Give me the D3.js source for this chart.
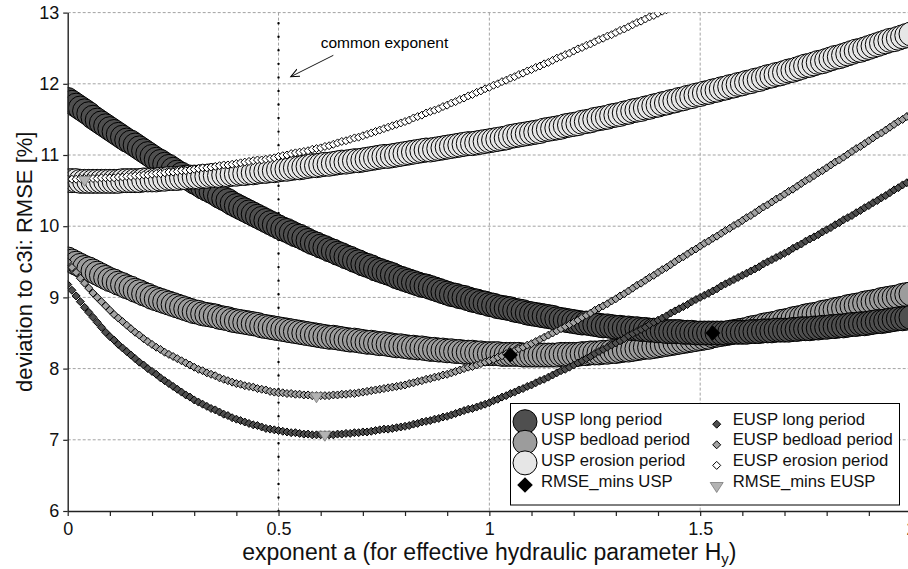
<!DOCTYPE html>
<html>
<head>
<meta charset="utf-8">
<script src="https://cdn.jsdelivr.net/npm/d3@7"></script>
<style>
  body { margin: 0; background: #fff; }
  svg { display: block; font-family: "Liberation Sans", Arial, sans-serif; }
</style>
</head>
<body>
<script>
// exponent a, sampled every 0.01 from 0 to 2
const exponents = d3.range(0, 201).map(i => i / 100);

const uspLong = [
  11.78, 11.74, 11.70, 11.66, 11.62, 11.58, 11.53, 11.49, 11.45, 11.41,
  11.37, 11.33, 11.29, 11.25, 11.21, 11.18, 11.14, 11.10, 11.06, 11.02,
  10.98, 10.94, 10.91, 10.87, 10.84, 10.80, 10.76, 10.73, 10.69, 10.66,
  10.62, 10.59, 10.55, 10.52, 10.49, 10.46, 10.42, 10.39, 10.36, 10.32,
  10.29, 10.26, 10.23, 10.20, 10.17, 10.14, 10.11, 10.08, 10.05, 10.02,
  9.99, 9.96, 9.94, 9.91, 9.88, 9.86, 9.83, 9.80, 9.77, 9.75,
  9.72, 9.70, 9.67, 9.65, 9.62, 9.60, 9.57, 9.55, 9.52, 9.50,
  9.47, 9.45, 9.43, 9.40, 9.38, 9.36, 9.34, 9.32, 9.29, 9.27,
  9.25, 9.23, 9.21, 9.19, 9.17, 9.16, 9.14, 9.12, 9.10, 9.08,
  9.06, 9.04, 9.03, 9.01, 9.00, 8.98, 8.96, 8.95, 8.93, 8.92,
  8.90, 8.89, 8.87, 8.86, 8.85, 8.84, 8.82, 8.81, 8.80, 8.78,
  8.77, 8.76, 8.75, 8.74, 8.73, 8.72, 8.70, 8.69, 8.68, 8.67,
  8.66, 8.65, 8.64, 8.64, 8.63, 8.62, 8.61, 8.60, 8.60, 8.59,
  8.58, 8.58, 8.57, 8.57, 8.56, 8.56, 8.55, 8.55, 8.54, 8.54,
  8.53, 8.53, 8.52, 8.52, 8.52, 8.52, 8.51, 8.51, 8.51, 8.50,
  8.50, 8.50, 8.50, 8.50, 8.50, 8.50, 8.50, 8.51, 8.51, 8.51,
  8.51, 8.51, 8.52, 8.52, 8.52, 8.53, 8.53, 8.53, 8.54, 8.54,
  8.54, 8.54, 8.55, 8.55, 8.56, 8.56, 8.56, 8.57, 8.57, 8.58,
  8.58, 8.59, 8.59, 8.60, 8.60, 8.61, 8.62, 8.62, 8.63, 8.63,
  8.64, 8.65, 8.66, 8.66, 8.67, 8.68, 8.69, 8.70, 8.70, 8.71,
  8.72
];

const uspBedload = [
  9.54, 9.51, 9.48, 9.45, 9.42, 9.40, 9.37, 9.34, 9.31, 9.28,
  9.25, 9.23, 9.20, 9.18, 9.15, 9.13, 9.10, 9.08, 9.05, 9.03,
  9.00, 8.98, 8.96, 8.94, 8.92, 8.90, 8.88, 8.86, 8.84, 8.82,
  8.80, 8.79, 8.77, 8.76, 8.75, 8.74, 8.72, 8.71, 8.70, 8.68,
  8.67, 8.66, 8.65, 8.64, 8.63, 8.62, 8.60, 8.59, 8.58, 8.57,
  8.56, 8.55, 8.54, 8.53, 8.52, 8.51, 8.50, 8.49, 8.48, 8.47,
  8.46, 8.45, 8.44, 8.44, 8.43, 8.42, 8.41, 8.40, 8.40, 8.39,
  8.38, 8.37, 8.37, 8.36, 8.35, 8.35, 8.34, 8.33, 8.32, 8.32,
  8.31, 8.30, 8.30, 8.29, 8.29, 8.28, 8.27, 8.27, 8.26, 8.26,
  8.25, 8.25, 8.24, 8.24, 8.23, 8.23, 8.23, 8.22, 8.22, 8.21,
  8.21, 8.21, 8.21, 8.20, 8.20, 8.20, 8.20, 8.20, 8.19, 8.19,
  8.19, 8.19, 8.19, 8.19, 8.19, 8.19, 8.19, 8.20, 8.20, 8.20,
  8.20, 8.20, 8.21, 8.21, 8.22, 8.22, 8.22, 8.23, 8.23, 8.24,
  8.24, 8.25, 8.26, 8.26, 8.27, 8.28, 8.29, 8.30, 8.30, 8.31,
  8.32, 8.33, 8.34, 8.35, 8.36, 8.37, 8.38, 8.39, 8.40, 8.41,
  8.42, 8.43, 8.44, 8.46, 8.47, 8.48, 8.49, 8.50, 8.52, 8.53,
  8.54, 8.55, 8.57, 8.58, 8.59, 8.61, 8.62, 8.63, 8.64, 8.66,
  8.67, 8.68, 8.70, 8.71, 8.72, 8.74, 8.75, 8.76, 8.77, 8.79,
  8.80, 8.81, 8.83, 8.84, 8.85, 8.87, 8.88, 8.89, 8.90, 8.92,
  8.93, 8.94, 8.95, 8.97, 8.98, 8.99, 9.00, 9.01, 9.03, 9.04,
  9.05
];

const uspErosion = [
  10.64, 10.64, 10.64, 10.63, 10.63, 10.63, 10.63, 10.63, 10.63, 10.63,
  10.63, 10.63, 10.63, 10.64, 10.64, 10.64, 10.64, 10.64, 10.65, 10.65,
  10.65, 10.65, 10.66, 10.66, 10.67, 10.67, 10.67, 10.68, 10.68, 10.69,
  10.69, 10.69, 10.70, 10.70, 10.71, 10.71, 10.71, 10.72, 10.72, 10.73,
  10.73, 10.74, 10.74, 10.75, 10.75, 10.76, 10.77, 10.77, 10.78, 10.78,
  10.79, 10.80, 10.80, 10.81, 10.82, 10.82, 10.83, 10.84, 10.85, 10.85,
  10.86, 10.87, 10.87, 10.88, 10.89, 10.90, 10.90, 10.91, 10.92, 10.92,
  10.93, 10.94, 10.95, 10.96, 10.97, 10.98, 10.98, 10.99, 11.00, 11.01,
  11.02, 11.03, 11.04, 11.05, 11.06, 11.07, 11.07, 11.08, 11.09, 11.10,
  11.11, 11.12, 11.13, 11.14, 11.15, 11.16, 11.16, 11.17, 11.18, 11.19,
  11.20, 11.21, 11.22, 11.23, 11.24, 11.26, 11.27, 11.28, 11.29, 11.30,
  11.31, 11.32, 11.33, 11.35, 11.36, 11.37, 11.38, 11.39, 11.41, 11.42,
  11.43, 11.44, 11.46, 11.47, 11.48, 11.50, 11.51, 11.52, 11.53, 11.55,
  11.56, 11.57, 11.59, 11.60, 11.62, 11.63, 11.64, 11.66, 11.67, 11.69,
  11.70, 11.72, 11.73, 11.75, 11.76, 11.78, 11.79, 11.81, 11.82, 11.84,
  11.85, 11.87, 11.88, 11.90, 11.91, 11.93, 11.94, 11.96, 11.97, 11.99,
  12.00, 12.02, 12.03, 12.05, 12.06, 12.08, 12.10, 12.11, 12.13, 12.14,
  12.16, 12.18, 12.19, 12.21, 12.23, 12.25, 12.26, 12.28, 12.30, 12.31,
  12.33, 12.35, 12.37, 12.38, 12.40, 12.42, 12.44, 12.46, 12.47, 12.49,
  12.51, 12.53, 12.55, 12.57, 12.59, 12.61, 12.62, 12.64, 12.66, 12.68,
  12.70
];

const euspLong = [
  9.18, 9.10, 9.02, 8.94, 8.86, 8.79, 8.72, 8.65, 8.58, 8.51,
  8.45, 8.40, 8.34, 8.29, 8.24, 8.19, 8.14, 8.09, 8.05, 8.00,
  7.96, 7.92, 7.87, 7.83, 7.79, 7.75, 7.71, 7.67, 7.63, 7.60,
  7.56, 7.53, 7.50, 7.47, 7.44, 7.42, 7.39, 7.36, 7.34, 7.31,
  7.29, 7.27, 7.25, 7.23, 7.21, 7.20, 7.18, 7.16, 7.15, 7.14,
  7.13, 7.12, 7.11, 7.10, 7.10, 7.09, 7.08, 7.08, 7.07, 7.07,
  7.07, 7.07, 7.07, 7.07, 7.08, 7.08, 7.09, 7.09, 7.10, 7.10,
  7.11, 7.11, 7.12, 7.13, 7.14, 7.15, 7.15, 7.16, 7.17, 7.18,
  7.19, 7.20, 7.22, 7.23, 7.25, 7.26, 7.27, 7.29, 7.30, 7.32,
  7.33, 7.35, 7.37, 7.39, 7.41, 7.43, 7.44, 7.46, 7.48, 7.50,
  7.52, 7.55, 7.57, 7.60, 7.62, 7.65, 7.67, 7.70, 7.72, 7.75,
  7.77, 7.80, 7.83, 7.85, 7.88, 7.91, 7.94, 7.97, 7.99, 8.02,
  8.05, 8.08, 8.11, 8.14, 8.17, 8.21, 8.24, 8.27, 8.30, 8.33,
  8.36, 8.39, 8.42, 8.46, 8.49, 8.52, 8.55, 8.58, 8.62, 8.65,
  8.68, 8.71, 8.74, 8.78, 8.81, 8.84, 8.87, 8.90, 8.94, 8.97,
  9.00, 9.03, 9.06, 9.09, 9.12, 9.16, 9.19, 9.22, 9.25, 9.28,
  9.31, 9.34, 9.37, 9.40, 9.43, 9.47, 9.50, 9.53, 9.56, 9.59,
  9.62, 9.65, 9.69, 9.72, 9.75, 9.79, 9.82, 9.85, 9.88, 9.92,
  9.95, 9.98, 10.02, 10.05, 10.09, 10.12, 10.15, 10.19, 10.22, 10.26,
  10.29, 10.33, 10.36, 10.40, 10.43, 10.47, 10.51, 10.54, 10.58, 10.61,
  10.65
];

const euspBedload = [
  9.50, 9.42, 9.35, 9.27, 9.20, 9.13, 9.06, 9.00, 8.94, 8.88,
  8.82, 8.76, 8.71, 8.66, 8.61, 8.56, 8.51, 8.47, 8.42, 8.38,
  8.34, 8.30, 8.27, 8.23, 8.20, 8.17, 8.14, 8.11, 8.08, 8.05,
  8.02, 7.99, 7.97, 7.94, 7.92, 7.90, 7.87, 7.85, 7.83, 7.81,
  7.79, 7.78, 7.76, 7.75, 7.74, 7.72, 7.71, 7.70, 7.68, 7.67,
  7.66, 7.66, 7.65, 7.65, 7.64, 7.64, 7.63, 7.63, 7.62, 7.62,
  7.62, 7.62, 7.62, 7.63, 7.63, 7.64, 7.64, 7.65, 7.65, 7.66,
  7.67, 7.68, 7.69, 7.70, 7.71, 7.72, 7.73, 7.74, 7.75, 7.76,
  7.77, 7.79, 7.80, 7.82, 7.83, 7.85, 7.86, 7.88, 7.89, 7.91,
  7.92, 7.94, 7.96, 7.98, 8.00, 8.02, 8.03, 8.05, 8.07, 8.09,
  8.11, 8.13, 8.16, 8.18, 8.21, 8.23, 8.25, 8.28, 8.30, 8.33,
  8.35, 8.38, 8.41, 8.44, 8.47, 8.50, 8.53, 8.56, 8.59, 8.62,
  8.65, 8.68, 8.72, 8.75, 8.78, 8.82, 8.85, 8.88, 8.91, 8.95,
  8.98, 9.02, 9.05, 9.09, 9.13, 9.17, 9.20, 9.24, 9.28, 9.31,
  9.35, 9.39, 9.42, 9.46, 9.50, 9.54, 9.57, 9.61, 9.65, 9.68,
  9.72, 9.76, 9.79, 9.83, 9.86, 9.90, 9.94, 9.97, 10.01, 10.04,
  10.08, 10.12, 10.15, 10.19, 10.23, 10.27, 10.30, 10.34, 10.38, 10.41,
  10.45, 10.49, 10.52, 10.56, 10.60, 10.64, 10.67, 10.71, 10.75, 10.78,
  10.82, 10.86, 10.90, 10.93, 10.97, 11.01, 11.05, 11.09, 11.12, 11.16,
  11.20, 11.24, 11.28, 11.31, 11.35, 11.39, 11.43, 11.47, 11.50, 11.54,
  11.58
];

// leaves the plot at the top near a = 1.41
const euspErosion = [
  10.66, 10.66, 10.66, 10.67, 10.67, 10.67, 10.67, 10.67, 10.68, 10.68,
  10.68, 10.68, 10.69, 10.69, 10.70, 10.70, 10.71, 10.71, 10.72, 10.72,
  10.73, 10.74, 10.74, 10.75, 10.76, 10.76, 10.77, 10.78, 10.78, 10.79,
  10.80, 10.81, 10.82, 10.82, 10.83, 10.84, 10.85, 10.86, 10.86, 10.87,
  10.88, 10.89, 10.90, 10.91, 10.92, 10.93, 10.93, 10.94, 10.95, 10.96,
  10.98, 10.99, 11.00, 11.02, 11.03, 11.04, 11.05, 11.06, 11.08, 11.09,
  11.10, 11.12, 11.13, 11.15, 11.17, 11.19, 11.20, 11.22, 11.24, 11.25,
  11.27, 11.29, 11.31, 11.33, 11.35, 11.37, 11.39, 11.41, 11.43, 11.45,
  11.47, 11.49, 11.52, 11.54, 11.56, 11.59, 11.61, 11.63, 11.65, 11.68,
  11.70, 11.73, 11.75, 11.78, 11.80, 11.83, 11.85, 11.88, 11.90, 11.93,
  11.95, 11.98, 12.00, 12.03, 12.05, 12.08, 12.10, 12.13, 12.15, 12.18,
  12.20, 12.23, 12.25, 12.28, 12.30, 12.33, 12.36, 12.38, 12.41, 12.43,
  12.46, 12.49, 12.51, 12.54, 12.56, 12.59, 12.62, 12.64, 12.67, 12.69,
  12.72, 12.75, 12.77, 12.80, 12.83, 12.86, 12.88, 12.91, 12.94, 12.96,
  12.99, 13.02, 13.04, 13.07, 13.10, 13.13, 13.15, 13.18, 13.21, 13.23,
  13.26
];

const rmseMinsUspA = [1.05, 1.53];
const rmseMinsUspV = [8.19, 8.50];
const rmseMinsEuspA = [0.04, 0.59, 0.61];
const rmseMinsEuspV = [10.63, 7.59, 7.05];

const commonExponent = [[0.5, 6], [0.5, 13]];

const yTicks = [6, 7, 8, 9, 10, 11, 12, 13];
const xMinorTicks = d3.range(0, 21).map(i => i / 10);
const xLabels = {0: "0", 0.5: "0.5", 1: "1", 1.5: "1.5", 2: "2"};
const xGrid = [0.5, 1, 1.5, 2];

const legendLeft = ["USP long period", "USP bedload period", "USP erosion period", "RMSE_mins USP"];
const legendRight = ["EUSP long period", "EUSP bedload period", "EUSP erosion period", "RMSE_mins EUSP"];

const margin = {top: 12.6, left: 67.7},
  width = 843.3,
  height = 498.4;

const x = d3.scaleLinear().domain([0, 2]).range([0, width]);
const y = d3.scaleLinear().domain([6, 13]).range([height, 0]);

const svg = d3.select("body").append("svg")
  .attr("width", 908)
  .attr("height", 569);

const defs = svg.append("defs");
defs.append("clipPath").attr("id", "plot-clip")
  .append("rect").attr("width", width).attr("height", height);
defs.append("marker")
  .attr("id", "open-arrow")
  .attr("markerUnits", "userSpaceOnUse")
  .attr("markerWidth", 12).attr("markerHeight", 12)
  .attr("refX", 9).attr("refY", 4)
  .attr("orient", "auto")
  .append("path")
  .attr("d", "M0,0L9,4L0,8")
  .attr("fill", "none")
  .attr("stroke", "#000")
  .attr("stroke-width", 1);

const g = svg.append("g")
  .attr("transform", "translate(" + margin.left + "," + margin.top + ")");

// grid
g.append("g").selectAll("line").data(yTicks.slice(1)).join("line")
  .attr("x1", 0).attr("x2", width)
  .attr("y1", d => y(d)).attr("y2", d => y(d))
  .attr("stroke", "#a3a3a3").attr("stroke-dasharray", "3,2");
g.append("g").selectAll("line").data(xGrid).join("line")
  .attr("x1", d => x(d)).attr("x2", d => x(d))
  .attr("y1", 0).attr("y2", height)
  .attr("stroke", "#a3a3a3").attr("stroke-dasharray", "3,2");

const plot = g.append("g").attr("clip-path", "url(#plot-clip)");

// common exponent: dotted vertical at a = 0.5
plot.append("path")
  .datum(commonExponent)
  .attr("d", d3.line().x(d => x(d[0])).y(d => y(d[1])))
  .attr("fill", "none")
  .attr("stroke", "#000")
  .attr("stroke-width", 2.4)
  .attr("stroke-linecap", "round")
  .attr("stroke-dasharray", "0,13.55");

function toPoints(values) {
  return values.map((v, i) => [exponents[i], v]).filter(p => p[1] != null);
}

function circleSeries(values, fill) {
  plot.append("g").selectAll("circle").data(toPoints(values)).join("circle")
    .attr("cx", d => x(d[0]))
    .attr("cy", d => y(d[1]))
    .attr("r", 12)
    .attr("fill", fill)
    .attr("stroke", "#000")
    .attr("stroke-width", 1);
}

const diamond = s => "M0," + (-s) + "L" + s + ",0L0," + s + "L" + (-s) + ",0Z";
const triangleDown = (w, h) => "M" + (-w / 2) + "," + (-h / 2) + "L" + (w / 2) + "," + (-h / 2) + "L0," + (h / 2) + "Z";

function diamondSeries(values, fill) {
  plot.append("g").selectAll("path").data(toPoints(values)).join("path")
    .attr("transform", d => "translate(" + x(d[0]) + "," + y(d[1]) + ")")
    .attr("d", diamond(4))
    .attr("fill", fill)
    .attr("stroke", "#000")
    .attr("stroke-width", 1);
}

circleSeries(uspBedload, "#9c9c9c");
circleSeries(uspLong, "#4f4f4f");
circleSeries(uspErosion, "#e6e6e6");
diamondSeries(euspLong, "#4f4f4f");
diamondSeries(euspBedload, "#a3a3a3");
diamondSeries(euspErosion, "#ffffff");

plot.append("g").selectAll("path").data(rmseMinsUspA).join("path")
  .attr("transform", (d, i) => "translate(" + x(d) + "," + y(rmseMinsUspV[i]) + ")")
  .attr("d", diamond(7.5))
  .attr("fill", "#000");

plot.append("g").selectAll("path").data(rmseMinsEuspA).join("path")
  .attr("transform", (d, i) => "translate(" + x(d) + "," + y(rmseMinsEuspV[i]) + ")")
  .attr("d", triangleDown(13, 10))
  .attr("fill", "#b3b3b3")
  .attr("stroke", "#6e6e6e")
  .attr("stroke-width", 0.7);

// annotation
g.append("line")
  .attr("x1", x(0.63)).attr("y1", y(12.40))
  .attr("x2", x(0.529)).attr("y2", y(12.10))
  .attr("stroke", "#000").attr("stroke-width", 0.9)
  .attr("marker-end", "url(#open-arrow)");
g.append("text")
  .attr("x", x(0.60)).attr("y", y(12.50))
  .attr("font-size", 15.5)
  .text("common exponent");

// axes
const yAxis = g.append("g")
  .call(d3.axisLeft(y).tickValues(yTicks).tickFormat(d3.format("d"))
    .tickSize(4.5).tickSizeOuter(0).tickPadding(4));
const xAxis = g.append("g")
  .attr("transform", "translate(0," + height + ")")
  .call(d3.axisBottom(x).tickValues(xMinorTicks).tickSize(5).tickSizeOuter(0).tickPadding(6)
    .tickFormat(d => xLabels[d] !== undefined ? xLabels[d] : ""));

[yAxis, xAxis].forEach(a => {
  a.select(".domain").attr("stroke", "#222").attr("stroke-width", 1.4);
  a.selectAll(".tick line").attr("stroke", "#222").attr("stroke-width", 1.2);
  a.selectAll(".tick text").attr("font-size", 18).attr("font-family", null).attr("fill", "#111");
});

// axis titles
svg.append("text")
  .attr("transform", "translate(32," + (margin.top + height / 2) + ") rotate(-90)")
  .attr("text-anchor", "middle")
  .attr("font-size", 22)
  .attr("fill", "#111")
  .text("deviation to c3i: RMSE [%]");

const xt = svg.append("text")
  .attr("x", margin.left + width / 2)
  .attr("y", 560)
  .attr("text-anchor", "middle")
  .attr("font-size", 23)
  .attr("fill", "#111");
xt.append("tspan").text("exponent a (for effective hydraulic parameter H");
xt.append("tspan").attr("font-size", 15).attr("dy", 4).text("y");
xt.append("tspan").attr("dy", -4).text(")");

// legend
const legend = svg.append("g");
legend.append("rect")
  .attr("x", 510.5).attr("y", 403.5)
  .attr("width", 389).attr("height", 101.5)
  .attr("fill", "#fff")
  .attr("stroke", "#000")
  .attr("stroke-width", 1);

const rowY = i => 421.7 + i * 20.6;
const leftFills = ["#4f4f4f", "#9c9c9c", "#e6e6e6"];
leftFills.forEach((f, i) => {
  legend.append("circle")
    .attr("cx", 525).attr("cy", rowY(i)).attr("r", 12)
    .attr("fill", f).attr("stroke", "#000").attr("stroke-width", 1);
});
legend.append("path")
  .attr("transform", "translate(525," + (rowY(3) + 1.5) + ")")
  .attr("d", diamond(7.8))
  .attr("fill", "#000");

const rightFills = ["#4f4f4f", "#a3a3a3", "#ffffff"];
rightFills.forEach((f, i) => {
  legend.append("path")
    .attr("transform", "translate(716.7," + (rowY(i) + 2.5) + ")")
    .attr("d", diamond(4))
    .attr("fill", f).attr("stroke", "#000").attr("stroke-width", 1);
});
legend.append("path")
  .attr("transform", "translate(716.7," + (rowY(3) + 4) + ")")
  .attr("d", triangleDown(13, 10))
  .attr("fill", "#b3b3b3").attr("stroke", "#6e6e6e").attr("stroke-width", 0.7);

legend.selectAll("text.left").data(legendLeft).join("text")
  .attr("class", "left")
  .attr("x", 541).attr("y", (d, i) => rowY(i) + 3)
  .attr("font-size", 16.7).attr("fill", "#111")
  .text(d => d);
legend.selectAll("text.right").data(legendRight).join("text")
  .attr("class", "right")
  .attr("x", 732.7).attr("y", (d, i) => rowY(i) + 3)
  .attr("font-size", 16.7).attr("fill", "#111")
  .text(d => d);
</script>
</body>
</html>
